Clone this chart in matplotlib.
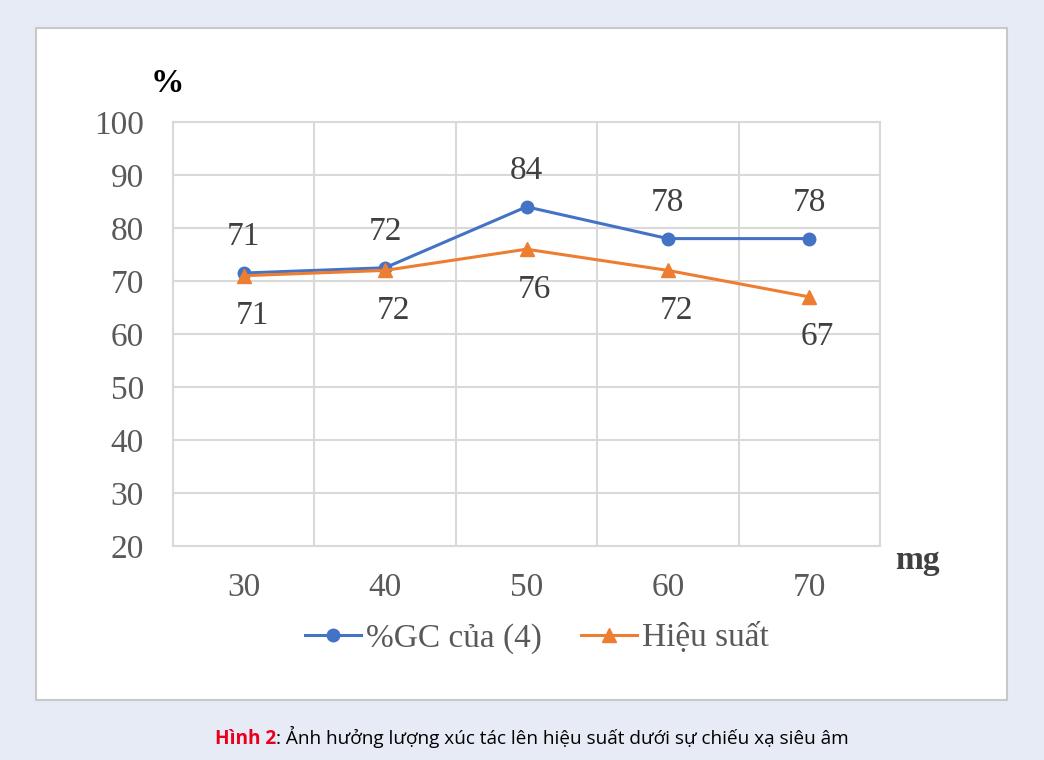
import matplotlib.pyplot as plt
from matplotlib.patches import Rectangle

# data
doses = ['30', '40', '50', '60', '70']
gc_values = [71.5, 72.5, 84, 78, 78]
gc_labels = ['71', '72', '84', '78', '78']
yield_values = [71, 72, 76, 72, 67]
yield_labels = ['71', '72', '76', '72', '67']
y_ticks = [20, 30, 40, 50, 60, 70, 80, 90, 100]

blue = '#4472c4'
orange = '#ed7d31'
serif = ['Liberation Serif', 'DejaVu Serif']

fig = plt.figure(figsize=(10.44, 7.6), dpi=100)
fig.patch.set_facecolor('#e7ebf5')

# white panel behind the chart
fig.patches.append(Rectangle((36 / 1044, 1 - 700 / 760), (1007 - 36) / 1044, (700 - 28) / 760,
                             transform=fig.transFigure, facecolor='white',
                             edgecolor='#c8c8c8', linewidth=1.5, zorder=-5))

ax = fig.add_axes([173 / 1044, 1 - 546 / 760, (880 - 173) / 1044, (546 - 122) / 760])
ax.set_facecolor('none')
x = list(range(len(doses)))

ax.plot(x, gc_values, color=blue, linewidth=2.2, marker='o', markersize=9,
        label='%GC của (4)', zorder=3)
ax.plot(x, yield_values, color=orange, linewidth=2.2, marker='^', markersize=10,
        label='Hiệu suất', zorder=3)

for xi, v, t in zip(x, gc_values, gc_labels):
    ax.annotate(t, (xi, v), xytext=(0, 26), textcoords='offset points',
                ha='center', va='center', fontsize=24, color='#404040', family=serif)
for xi, v, t in zip(x, yield_values, yield_labels):
    ax.annotate(t, (xi, v), xytext=(6, -29), textcoords='offset points',
                ha='center', va='center', fontsize=24, color='#404040', family=serif)

ax.set_xlim(-0.5, len(doses) - 0.5)
ax.set_ylim(20, 100)
ax.set_yticks(y_ticks)
ax.set_xticks(x)
ax.set_xticklabels(doses)
ax.set_xticks([i - 0.5 for i in range(len(doses) + 1)], minor=True)
ax.grid(True, which='major', axis='y', color='#d9d9d9', linewidth=1.5)
ax.grid(True, which='minor', axis='x', color='#d9d9d9', linewidth=1.5)
ax.tick_params(which='both', length=0)
ax.tick_params(axis='y', pad=21)
ax.tick_params(axis='x', pad=19)
for lab in ax.get_xticklabels() + ax.get_yticklabels():
    lab.set_fontfamily(serif)
    lab.set_fontsize(24)
    lab.set_color('#595959')
for s in ax.spines.values():
    s.set_color('#d9d9d9')
    s.set_linewidth(1.5)
ax.set_axisbelow(True)

fig.text(167 / 1044, 1 - 83 / 760, '%', fontsize=24, fontweight='bold',
         family=serif, ha='center', va='center', color='black')
fig.text(917 / 1044, 1 - 560 / 760, 'mg', fontsize=24, fontweight='bold',
         family=serif, ha='center', va='center', color='#404040')

leg = ax.legend(loc='center', bbox_to_anchor=(537 / 1044, 1 - 638 / 760),
                bbox_transform=fig.transFigure, ncol=2, frameon=False,
                prop={'family': serif, 'size': 24}, handlelength=1.7,
                columnspacing=1.15, handletextpad=0.15)
for t in leg.get_texts():
    t.set_color('#595959')

# caption
cap_y = 1 - 744 / 760
t1 = fig.text(215 / 1044, cap_y, 'Hình 2', fontsize=13.7, fontweight='bold',
              color='#e8001c', family=['Open Sans', 'DejaVu Sans'], va='baseline')
fig.canvas.draw()
bb = t1.get_window_extent()
fig.text(bb.x1 / 1044, cap_y,
         ': Ảnh hưởng lượng xúc tác lên hiệu suất dưới sự chiếu xạ siêu âm',
         fontsize=13.7, color='black', family=['Open Sans', 'DejaVu Sans'], va='baseline')

fig.savefig('out.png', dpi=100, facecolor=fig.get_facecolor())
